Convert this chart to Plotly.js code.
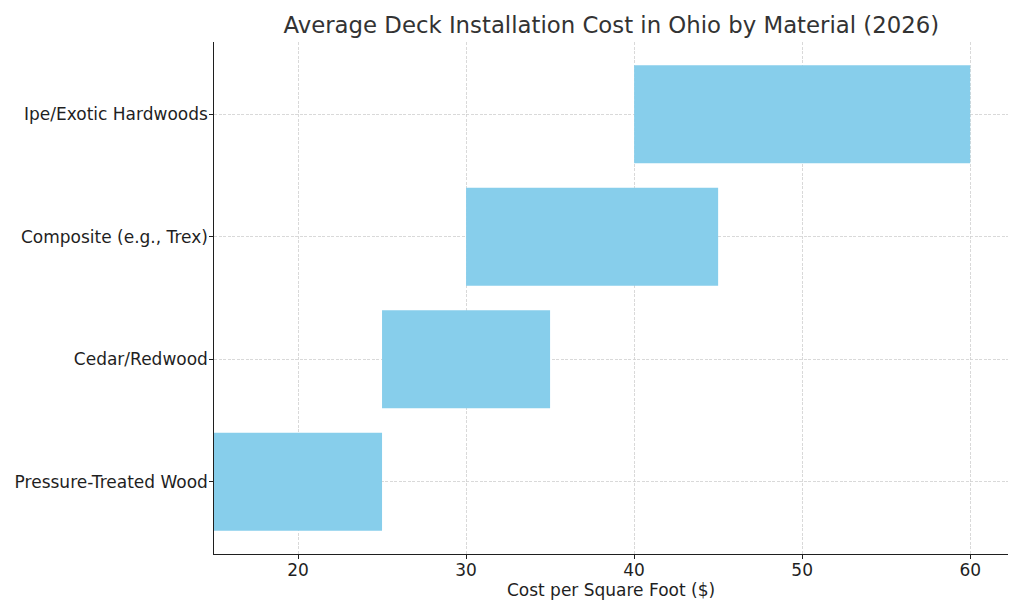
<!DOCTYPE html>
<html>
<head>
<meta charset="utf-8">
<script src="https://cdn.plot.ly/plotly-3.0.1.min.js"></script>
<style>
  html, body { margin: 0; padding: 0; background: #ffffff; }
  #chart { width: 1024px; height: 614px; }
</style>
</head>
<body>
<div id="chart"></div>
<script>
// Deck materials and their cost range per square foot (USD)
const materials = ["Pressure-Treated Wood", "Cedar/Redwood", "Composite (e.g., Trex)", "Ipe/Exotic Hardwoods"];
const lowCost = [15, 25, 30, 40];
const highCost = [25, 35, 45, 60];
const xTicks = [20, 30, 40, 50, 60];

const spans = highCost.map((h, i) => h - lowCost[i]);
const positions = materials.map((_, i) => i);

const font = "DejaVu Sans, Liberation Sans, sans-serif";
const ink = "#1f1f1f";

const trace = {
  type: "bar",
  orientation: "h",
  y: positions,
  x: spans,
  base: lowCost,
  width: 0.8,
  marker: { color: "#87CEEB", line: { width: 0 } },
  hoverinfo: "skip"
};

const layout = {
  width: 1024,
  height: 614,
  margin: { l: 214, r: 16, t: 42, b: 60 },
  paper_bgcolor: "#ffffff",
  plot_bgcolor: "#ffffff",
  showlegend: false,
  font: { family: font, size: 17, color: ink },
  title: {
    text: "Average Deck Installation Cost in Ohio by Material (2026)",
    font: { family: font, size: 22.8, color: "#333333" },
    x: 0.597, xanchor: "center",
    y: 0.96, yanchor: "middle"
  },
  xaxis: {
    range: [15, 62.25],
    tickvals: xTicks,
    ticktext: xTicks.map(String),
    ticks: "outside", ticklen: 3.5, tickwidth: 1, tickcolor: ink,
    ticklabelstandoff: -3,
    showline: true, linecolor: ink, linewidth: 1.2,
    showgrid: true, gridcolor: "#cfcfcf", griddash: "3px,1.5px", gridwidth: 0.8,
    zeroline: false,
    tickfont: { family: font, size: 17, color: ink },
    title: { text: "Cost per Square Foot ($)", font: { family: font, size: 17, color: ink }, standoff: 4 },
    fixedrange: true
  },
  yaxis: {
    range: [-0.59, 3.59],
    tickvals: positions,
    ticktext: materials,
    ticks: "outside", ticklen: 3.5, tickwidth: 1, tickcolor: ink,
    ticklabelstandoff: -2,
    showline: true, linecolor: ink, linewidth: 1.2,
    showgrid: true, gridcolor: "#cfcfcf", griddash: "3px,1.5px", gridwidth: 0.8,
    zeroline: false,
    tickfont: { family: font, size: 17, color: ink },
    fixedrange: true
  },
  bargap: 0.2
};

Plotly.newPlot("chart", [trace], layout, { displayModeBar: false, staticPlot: true });
</script>
</body>
</html>
